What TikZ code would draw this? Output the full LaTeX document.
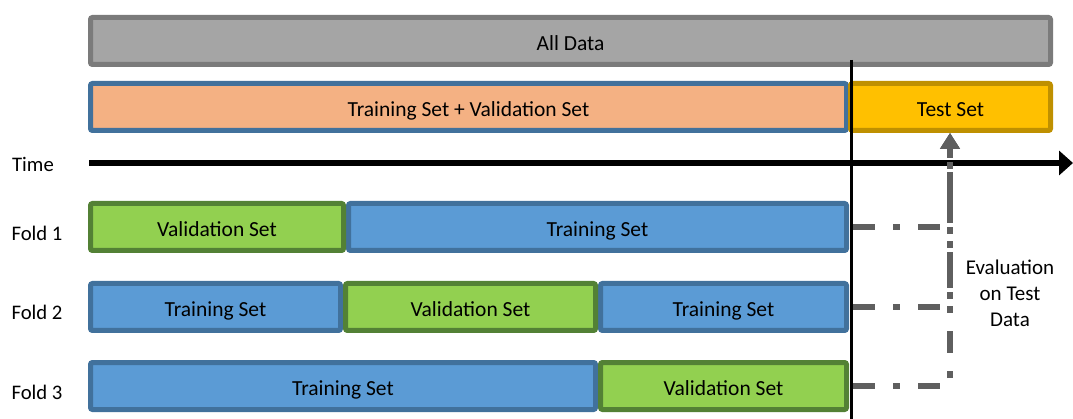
\documentclass[tikz,border=0pt]{standalone}
\usepackage{fontspec}
\setmainfont{Carlito}
\usetikzlibrary{arrows.meta}
\definecolor{allfill}{HTML}{A5A5A5}
\definecolor{alldraw}{HTML}{7B7B7B}
\definecolor{orfill}{HTML}{F4B183}
\definecolor{bluedraw}{HTML}{41719C}
\definecolor{bluefill}{HTML}{5B9BD5}
\definecolor{testfill}{HTML}{FFC000}
\definecolor{testdraw}{HTML}{BF9000}
\definecolor{grfill}{HTML}{92D050}
\definecolor{grdraw}{HTML}{538135}
\definecolor{evalgray}{HTML}{5F5F5F}
\tikzset{
  blk/.style={draw, line width=5pt, rounded corners=2pt, minimum height=47pt, inner sep=0pt,
    text height=24pt, text depth=5pt, font=\fontsize{21.5}{26}\selectfont},
  allbox/.style={blk, fill=allfill, draw=alldraw},
  tvbox/.style={blk, fill=orfill, draw=bluedraw},
  testbox/.style={blk, fill=testfill, draw=testdraw},
  trainbox/.style={blk, fill=bluefill, draw=bluedraw},
  valbox/.style={blk, fill=grfill, draw=grdraw},
  lbl/.style={font=\fontsize{20.7}{24}\selectfont, inner sep=0pt},
  evalline/.style={draw=evalgray, line width=6pt, dash pattern=on 22pt off 18pt on 7pt off 18pt,
    -{Triangle[length=16pt,width=19pt]}},
}
\begin{document}
\begin{tikzpicture}[x=1pt,y=-1pt]
\useasboundingbox (0,0) rectangle (1073,419);
% top rows
\node[allbox, minimum width=960pt] (all) at (570.5,41) {All Data};
\node[tvbox, minimum width=756pt] (tv) at (468.5,107) {Training Set + Validation Set};
\node[testbox, minimum width=200pt] (test) at (950.5,107) {Test Set};
% time
\node[lbl] (time) at (33,164) {Time};
\coordinate (tstart) at (89,163);
\coordinate (tend) at (1073,163);
\draw[line width=6pt, -{Triangle[length=14pt,width=24pt]}] (tstart) -- (tend);
% folds
\node[lbl] (f1) at (37,233) {Fold 1};
\node[lbl] (f2) at (37,312) {Fold 2};
\node[lbl] (f3) at (37,392) {Fold 3};
\node[trainbox, minimum width=498pt] (f1t) at (597.5,227) {Training Set};
\node[valbox, minimum width=253pt] (f1v) at (217,227) {Validation Set};
\node[trainbox, minimum width=250pt] (f2ta) at (215.5,307) {Training Set};
\node[trainbox, minimum width=246pt] (f2tb) at (723.5,307) {Training Set};
\node[valbox, minimum width=250pt] (f2v) at (470.5,307) {Validation Set};
\node[trainbox, minimum width=505pt] (f3t) at (343,386) {Training Set};
\node[valbox, minimum width=246pt] (f3v) at (723.5,386) {Validation Set};
% split line
\coordinate (vtop) at (851,60);
\coordinate (vbot) at (851,419);
\draw[line width=3pt] (vtop) -- (vbot);
% evaluation connectors
\coordinate (s1) at (853,227);
\coordinate (s2) at (853,307);
\coordinate (s3) at (853,386);
\coordinate (etop) at (950,133);
\draw[evalline] (s1) -| (etop);
\draw[evalline] (s2) -| (etop);
\draw[evalline] (s3) -| (etop);
\node[lbl, align=center, font=\fontsize{21}{26}\selectfont] (eval) at (1010,293) {Evaluation\\on Test\\Data};
\end{tikzpicture}
\end{document}
